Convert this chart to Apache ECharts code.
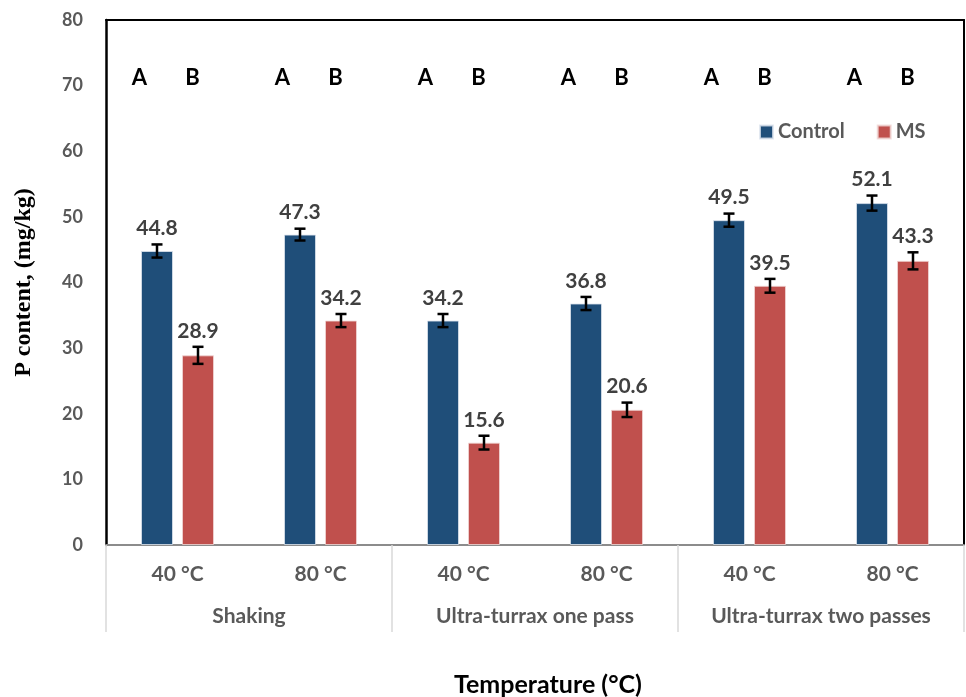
<!DOCTYPE html>
<html>
<head>
<meta charset="utf-8">
<script src="https://cdn.jsdelivr.net/npm/echarts@6/dist/echarts.min.js"></script>
<style>
  html, body { margin: 0; padding: 0; background: #fff; }
  #chart { width: 966px; height: 697px; }
</style>
</head>
<body>
<div id="chart"></div>
<script>
// Extraction method groups and temperatures
const groups = ['Shaking', 'Ultra-turrax one pass', 'Ultra-turrax two passes'];
const temps = ['40 °C', '80 °C'];

// P content means (mg/kg) and error-bar half widths
const controlMeans = [44.8, 47.3, 34.2, 36.8, 49.5, 52.1];
const msMeans = [28.9, 34.2, 15.6, 20.6, 39.5, 43.3];
const controlErr = [1.0, 0.9, 1.0, 1.0, 1.0, 1.15];
const msErr = [1.3, 1.0, 1.05, 1.1, 1.05, 1.3];

// Significance letters shown above each pair
const controlLetters = ['A', 'A', 'A', 'A', 'A', 'A'];
const msLetters = ['B', 'B', 'B', 'B', 'B', 'B'];
const letterLevel = 71.2;

// Y axis ticks
const yMin = 0, yMax = 80, yStep = 10;

// one category per group/temperature pair
const categoryKeys = [];
groups.forEach(g => temps.forEach(t => categoryKeys.push(g + '|' + t)));

const FONT = 'Lato';
const BAR_W = 32, BAR_GAP = 9;
const HALF = (BAR_W + BAR_GAP) / 2;

function errorBarRenderer(offset) {
  return function (params, api) {
    const i = api.value(0), m = api.value(1), e = api.value(2);
    const x = api.coord([i, m])[0] + offset;
    const yHi = api.coord([i, m + e])[1];
    const yLo = api.coord([i, m - e])[1];
    const cap = 5.5;
    const stroke = { stroke: '#000', lineWidth: 2.5 };
    return {
      type: 'group',
      children: [
        { type: 'line', shape: { x1: x, y1: yHi, x2: x, y2: yLo }, style: stroke },
        { type: 'line', shape: { x1: x - cap, y1: yHi, x2: x + cap, y2: yHi }, style: stroke },
        { type: 'line', shape: { x1: x - cap, y1: yLo, x2: x + cap, y2: yLo }, style: stroke },
        {
          type: 'text',
          style: {
            x: x, y: yHi - 16, text: m.toFixed(1),
            align: 'center', verticalAlign: 'middle',
            font: 'bold 21px ' + FONT, fill: '#404040'
          }
        }
      ]
    };
  };
}

function letterRenderer(params, api) {
  const i = api.value(0);
  const p = api.coord([i, api.value(1)]);
  const st = (txt, dx) => ({
    type: 'text',
    style: {
      x: p[0] + dx, y: p[1], text: txt,
      align: 'center', verticalAlign: 'middle',
      font: 'bold 22px ' + FONT, fill: '#000'
    }
  });
  return { type: 'group', children: [st(controlLetters[i], -38), st(msLetters[i], 15)] };
}

const chart = echarts.init(document.getElementById('chart'), null, { renderer: 'canvas' });

chart.setOption({
  animation: false,
  backgroundColor: '#fff',
  grid: { left: 106, right: 2, top: 20, bottom: 152, containLabel: false },
  legend: {
    left: 754, top: 117,
    itemWidth: 13, itemHeight: 13, itemGap: 32,
    icon: 'rect',
    textStyle: { fontFamily: FONT, fontWeight: 'bold', fontSize: 20, color: '#595959' },
    data: ['Control', 'MS']
  },
  xAxis: [
    {
      type: 'category',
      data: categoryKeys,
      position: 'bottom',
      axisLine: { show: true, lineStyle: { color: '#8c8c8c', width: 2 } },
      axisTick: { show: false },
      axisLabel: {
        margin: 19, interval: 0,
        fontFamily: FONT, fontWeight: 'bold', fontSize: 21, color: '#595959',
        formatter: v => v.split('|')[1]
      },
      splitLine: { show: false }
    },
    {
      type: 'category',
      data: groups,
      position: 'bottom',
      axisLine: { show: false },
      axisTick: { show: true, length: 87, lineStyle: { color: '#d9d9d9', width: 1.5 } },
      axisLabel: {
        margin: 61, interval: 0,
        fontFamily: FONT, fontWeight: 'bold', fontSize: 21, color: '#595959'
      },
      splitLine: { show: false }
    },
    {
      type: 'category',
      data: groups,
      position: 'top',
      axisLine: { show: true, lineStyle: { color: '#000', width: 2 } },
      axisTick: { show: false },
      axisLabel: { show: false }
    }
  ],
  yAxis: [
    {
      type: 'value',
      min: yMin, max: yMax, interval: yStep,
      name: 'P content, (mg/kg)',
      nameLocation: 'middle',
      nameGap: 70,
      nameTextStyle: { fontFamily: 'Liberation Serif', fontWeight: 'bold', fontSize: 24, color: '#000' },
      axisLine: { show: true, lineStyle: { color: '#000', width: 2.5 } },
      axisTick: { show: false },
      axisLabel: { margin: 23, fontFamily: FONT, fontWeight: 'bold', fontSize: 18, color: '#595959' },
      splitLine: { show: false }
    },
    {
      type: 'value',
      min: yMin, max: yMax, interval: yStep,
      position: 'right',
      axisLine: { show: true, lineStyle: { color: '#000', width: 2 } },
      axisTick: { show: false },
      axisLabel: { show: false },
      splitLine: { show: false }
    }
  ],
  graphic: [
    {
      type: 'text',
      x: 548, y: 685,
      style: {
        text: 'Temperature (°C)', font: 'bold 25px ' + FONT, fill: '#000',
        align: 'center', verticalAlign: 'middle'
      }
    }
  ],
  series: [
    {
      name: 'Control', type: 'bar', xAxisIndex: 0, yAxisIndex: 0,
      data: controlMeans,
      barWidth: BAR_W, barGap: (BAR_GAP / BAR_W * 100) + '%',
      itemStyle: { color: '#1F4E79', borderColor: 'rgba(220,228,238,0.8)', borderWidth: 1 }
    },
    {
      name: 'MS', type: 'bar', xAxisIndex: 0, yAxisIndex: 0,
      data: msMeans,
      barWidth: BAR_W, barGap: (BAR_GAP / BAR_W * 100) + '%',
      itemStyle: { color: '#C0504D', borderColor: 'rgba(240,215,214,0.8)', borderWidth: 1 }
    },
    {
      type: 'custom', xAxisIndex: 0, yAxisIndex: 0, z: 5,
      renderItem: errorBarRenderer(-HALF),
      data: controlMeans.map((v, i) => [i, v, controlErr[i]]),
      encode: { x: 0, y: 1 }
    },
    {
      type: 'custom', xAxisIndex: 0, yAxisIndex: 0, z: 5,
      renderItem: errorBarRenderer(HALF),
      data: msMeans.map((v, i) => [i, v, msErr[i]]),
      encode: { x: 0, y: 1 }
    },
    {
      type: 'custom', xAxisIndex: 0, yAxisIndex: 0, z: 5,
      renderItem: letterRenderer,
      data: categoryKeys.map((k, i) => [i, letterLevel]),
      encode: { x: 0, y: 1 }
    }
  ]
});
</script>
</body>
</html>
